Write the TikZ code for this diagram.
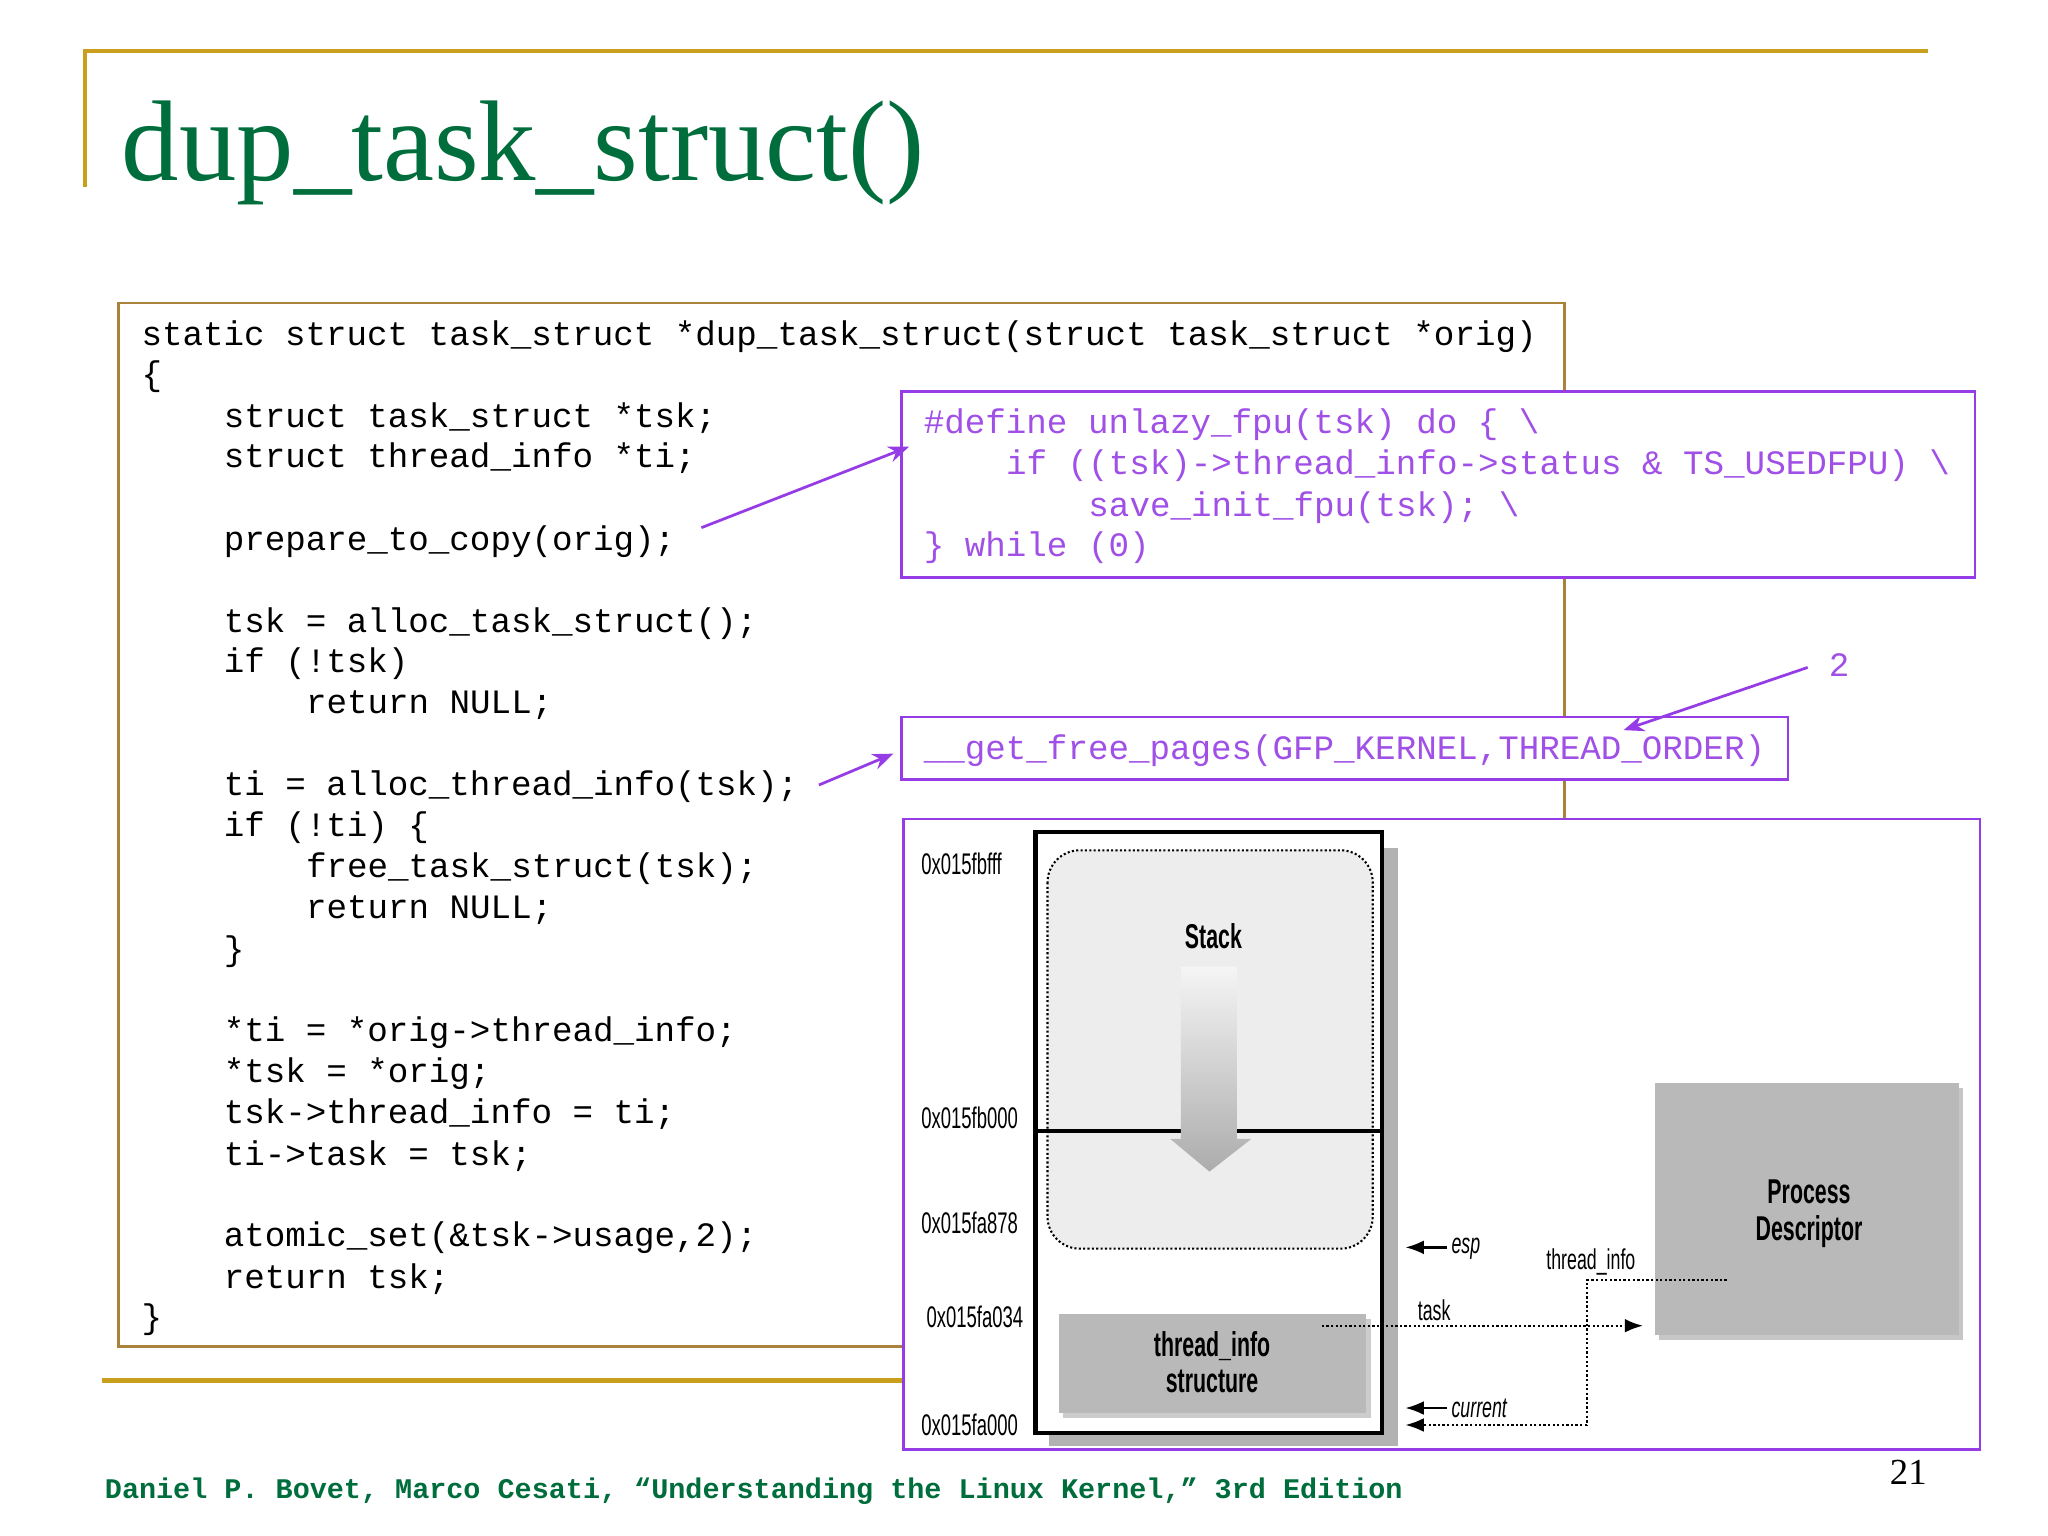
\documentclass[tikz,border=0pt]{standalone}
\usepackage{fontspec}
\setmainfont{Liberation Serif}
\setmonofont{Liberation Mono}
\newfontfamily\condsans{Liberation Sans}[FakeStretch=0.62]
\usetikzlibrary{arrows.meta}
\definecolor{slidegreen}{RGB}{0,110,60}
\definecolor{slidegold}{RGB}{200,160,30}
\definecolor{codebrown}{RGB}{170,130,60}
\definecolor{hlpurple}{RGB}{150,60,230}
\definecolor{hltext}{RGB}{160,80,230}
\tikzset{
  code/.style={anchor=west,inner sep=0pt,font=\fontsize{14.9}{17}\selectfont\ttfamily,text height=9pt,text depth=2pt},
  hlcode/.style={code,text=hltext},
  hlbox/.style={draw=hlpurple,line width=1.2pt,fill=white},
  hlarrow/.style={draw=hlpurple,line width=1.2pt,-{Stealth[length=9pt,width=7pt]}},
  addr/.style={anchor=west,inner sep=0pt,font=\fontsize{13}{15}\selectfont\condsans},
  lbl/.style={inner sep=0pt,font=\fontsize{12.5}{14}\selectfont\condsans},
  blbl/.style={inner sep=0pt,align=center,font=\fontsize{15}{16}\selectfont\condsans\bfseries},
  dots/.style={densely dotted,line width=1pt},
  ptr/.style={line width=1pt,-{Latex[length=8pt,width=6pt]}}
}
\begin{document}
\begin{tikzpicture}[x=0.02cm,y=-0.02cm]
\useasboundingbox[fill=white] (0,0) rectangle (1568,1176);
% slide frame
\draw[slidegold,line width=2pt] (65,143) -- (65,39) -- (1476,39);
\draw[slidegold,line width=2pt] (78,1057) -- (700,1057);
\node[anchor=west,inner sep=0pt,text=slidegreen,font=\fontsize{50}{56}\selectfont] (title) at (93,117) {dup\_task\_struct()};
% code listing
\draw[codebrown,line width=1.2pt] (91,232) rectangle (1198,1031);
\node[code] (c1) at (108,258) {static struct task\_struct *dup\_task\_struct(struct task\_struct *orig)};
\node[code] (c2) at (108,289) {\{};
\node[code] (c3) at (171,321) {struct task\_struct *tsk;};
\node[code] (c4) at (171,352) {struct thread\_info *ti;};
\node[code] (c5) at (171,415) {prepare\_to\_copy(orig);};
\node[code] (c6) at (171,478) {tsk = alloc\_task\_struct();};
\node[code] (c7) at (171,509) {if (!tsk)};
\node[code] (c8) at (234,540) {return NULL;};
\node[code] (c9) at (171,603) {ti = alloc\_thread\_info(tsk);};
\node[code] (c10) at (171,634) {if (!ti) \{};
\node[code] (c11) at (234,666) {free\_task\_struct(tsk);};
\node[code] (c12) at (234,697) {return NULL;};
\node[code] (c13) at (171,729) {\}};
\node[code] (c14) at (171,791) {*ti = *orig->thread\_info;};
\node[code] (c15) at (171,823) {*tsk = *orig;};
\node[code] (c16) at (171,854) {tsk->thread\_info = ti;};
\node[code] (c17) at (171,886) {ti->task = tsk;};
\node[code] (c18) at (171,948) {atomic\_set(\&tsk->usage,2);};
\node[code] (c19) at (171,980) {return tsk;};
\node[code] (c20) at (108,1011) {\}};
% unlazy_fpu box
\draw[hlbox] (690,300) rectangle (1512,442);
\node[hlcode] (u1) at (707,326) {\#define unlazy\_fpu(tsk) do \{ \textbackslash};
\node[hlcode] (u2) at (770,357) {if ((tsk)->thread\_info->status \& TS\_USEDFPU) \textbackslash};
\node[hlcode] (u3) at (833,389) {save\_init\_fpu(tsk); \textbackslash};
\node[hlcode] (u4) at (707,420) {\} while (0)};
\coordinate (u0) at (537,404);
\coordinate (uin) at (696,342);
\draw[hlarrow] (u0) -- (uin);
% get_free_pages box
\draw[hlbox] (690,549) rectangle (1369,597);
\node[hlcode] (g1) at (707,575) {\_\_get\_free\_pages(GFP\_KERNEL,THREAD\_ORDER)};
\coordinate (g0) at (627,601);
\coordinate (gin) at (684,577);
\draw[hlarrow] (g0) -- (gin);
\node[hlcode,anchor=center] (two) at (1408,512) {2};
\coordinate (twoend) at (1384,511);
\coordinate (order) at (1243,559);
\draw[hlarrow] (twoend) -- (order);
% figure
\draw[hlbox] (692,627) rectangle (1516,1110);
\fill[gray!60] (803,649) rectangle (1070,1107);
\draw[line width=2pt,fill=white] (793,637) rectangle (1058,1097);
\draw[densely dotted,line width=0.9pt,fill=gray!14,rounded corners=14pt] (802,651) rectangle (1051,956);
\draw[line width=1.6pt] (793,866) -- (1058,866);
\shade[top color=gray!8,bottom color=gray!65] (904,740) -- (947,740) -- (947,872) -- (958,872) -- (926,897) -- (896,872) -- (904,872) -- cycle;
\node[blbl] (stack) at (929,717) {Stack};
\fill[gray!40] (814,1010) rectangle (1050,1086);
\fill[gray!55] (811,1006) rectangle (1046,1082);
\node[blbl] (ti) at (928,1043) {thread\_info\\structure};
\fill[gray!45] (1270,833) rectangle (1503,1026);
\fill[gray!55] (1267,829) rectangle (1500,1022);
\node[blbl] (pd) at (1385,929) {Process\\Descriptor};
\node[addr] (a1) at (705,661) {0x015fbfff};
\node[addr] (a2) at (705,856) {0x015fb000};
\node[addr] (a3) at (705,936) {0x015fa878};
\node[addr] (a4) at (709,1008) {0x015fa034};
\node[addr] (a5) at (705,1091) {0x015fa000};
% pointers
\coordinate (espend) at (1108,955);
\coordinate (esptip) at (1076,955);
\draw[ptr] (espend) -- (esptip);
\node[lbl,anchor=west,font=\fontsize{12.5}{14}\selectfont\condsans\itshape] (esp) at (1111,956) {esp};
\coordinate (curend) at (1108,1078);
\coordinate (curtip) at (1076,1078);
\draw[ptr] (curend) -- (curtip);
\node[lbl,anchor=west,font=\fontsize{12.5}{14}\selectfont\condsans\itshape] (cur) at (1111,1078) {current};
\coordinate (tistart) at (1322,980);
\coordinate (ticorner) at (1215,980);
\coordinate (tibottom) at (1215,1091);
\coordinate (titip) at (1076,1091);
\draw[dots] (tistart) -- (ticorner) -- (tibottom);
\draw[dots,-{Latex[length=8pt,width=6pt]}] (tibottom) -- (titip);
\node[lbl] (tilbl) at (1218,966) {thread\_info};
\coordinate (taskstart) at (1012,1015);
\coordinate (tasktip) at (1258,1015);
\draw[dots,-{Latex[length=8pt,width=6pt]}] (taskstart) -- (tasktip);
\node[lbl] (tasklbl) at (1098,1003) {task};
% footer
\node[anchor=west,inner sep=0pt,text=slidegreen,font=\fontsize{12.4}{14}\selectfont\ttfamily\bfseries] (cite) at (80,1142) {Daniel P. Bovet, Marco Cesati, “Understanding the Linux Kernel,” 3rd Edition};
\node[inner sep=0pt,font=\fontsize{16}{18}\selectfont] (page) at (1461,1127) {21};
\end{tikzpicture}
\end{document}
